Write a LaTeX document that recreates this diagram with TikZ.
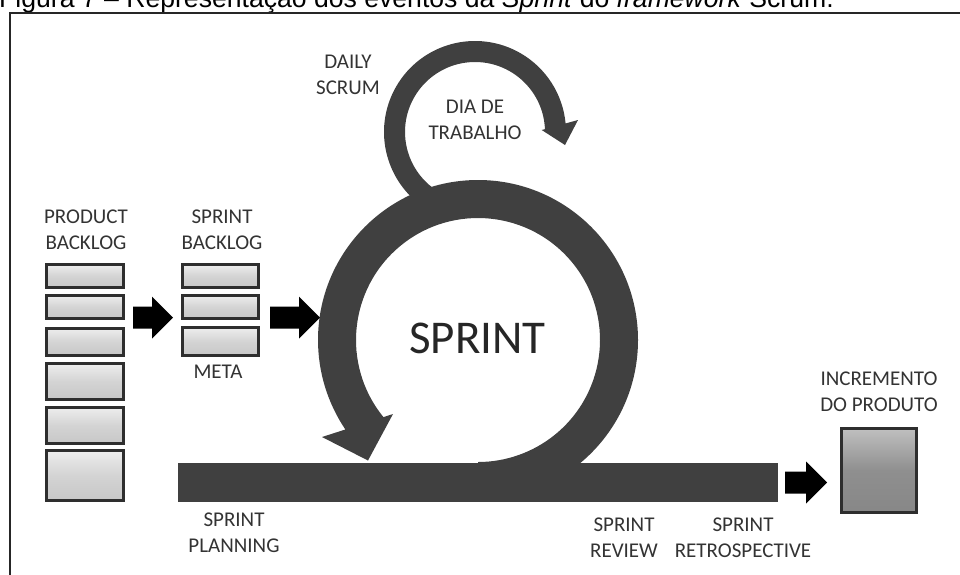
\documentclass[tikz,border=0pt]{standalone}
\usepackage{fontspec}
\setmainfont{Carlito}
\newfontfamily\capfont{Liberation Sans}
\usetikzlibrary{calc}
\definecolor{ringgray}{HTML}{404040}
\definecolor{boxedge}{HTML}{2E2E2E}
\definecolor{labeltext}{HTML}{333333}

\begin{document}
\begin{tikzpicture}[x=1pt,y=-1pt,
  lbl/.style={font=\fontsize{21}{26}\selectfont, text=labeltext, align=center, inner sep=0pt},
  item/.style={draw=boxedge, line width=3pt, top color=black!7, bottom color=black!22,
               middle color=black!17, minimum width=77pt, inner sep=0pt},
  product/.style={draw=boxedge, line width=3pt, top color=black!25, bottom color=black!47,
               middle color=black!44, minimum width=75pt, minimum height=84pt, inner sep=0pt},
  barrow/.style={fill=black, to path={let \p1=(\tikztostart), \p2=(\tikztotarget) in
     (\x1,\y1+11pt) -- (\x2-21pt,\y1+11pt) -- (\x2-21pt,\y1+21pt) -- (\x2,\y1)
     -- (\x2-21pt,\y1-21pt) -- (\x2-21pt,\y1-11pt) -- (\x1,\y1-11pt) -- cycle}}
]
\useasboundingbox (0,0) rectangle (960,574);

% caption and frame
\node[anchor=base west, inner sep=0pt, font=\capfont\fontsize{26.6}{30}\selectfont] (caption) at (-1,7)
  {Figura 7 – Representação dos eventos da \textit{Sprint} do \textit{framework} Scrum.};
\draw[line width=2pt, black!85] (9.5,600) -- (9.5,12.5) -- (1000,12.5);

% main sprint cycle, ending in an arrow head
\begin{scope}[shift={(478,340)}]
  \fill[ringgray] (90:160) arc[start angle=90, end angle=-214, radius=160]
    -- (-156,97) -- (-110,120.5) -- (-85,74)
    -- (-219.2:122) arc[start angle=-219.2, end angle=90, radius=122] -- cycle;
\end{scope}

% daily loop
\begin{scope}[shift={(475,132)}]
  \fill[ringgray] (120:91) arc[start angle=120, end angle=354.6, radius=91]
    -- (103,-12) -- (90,13) -- (66.7,-2)
    -- (357.7:70) arc[start angle=357.7, end angle=120, radius=70] -- cycle;
\end{scope}

% timeline bar
\node[fill=ringgray, minimum width=600pt, minimum height=39pt, inner sep=0pt] (bar) at (478,482.5) {};

% product backlog
\node[item, minimum height=23pt] (pb1) at (85,276) {};
\node[item, minimum height=23pt] (pb2) at (85,307) {};
\node[item, minimum height=27pt] (pb3) at (85,342) {};
\node[item, minimum height=36pt] (pb4) at (85,381.5) {};
\node[item, minimum height=36pt] (pb5) at (85,425.5) {};
\node[item, minimum height=50pt] (pb6) at (85,475.5) {};

% sprint backlog
\node[item, minimum width=76pt, minimum height=23pt] (sb1) at (220.5,276) {};
\node[item, minimum width=76pt, minimum height=23pt] (sb2) at (220.5,307) {};
\node[item, minimum width=76pt, minimum height=28pt] (sb3) at (220.5,341.5) {};

% product increment
\node[product] (inc) at (879,470.5) {};

% block arrows
\coordinate (a1s) at ([xshift=8pt,yshift=-10.5pt]pb2.east);
\coordinate (a1e) at ([xshift=-8pt,yshift=-10.5pt]sb2.west);
\coordinate (a2s) at ([xshift=10pt,yshift=-10.5pt]sb2.east);
\coordinate (a2e) at ([xshift=50pt]a2s);
\coordinate (a3s) at ([xshift=7pt]bar.east);
\coordinate (a3e) at ($(inc.west |- a3s)+(-13,0)$);
\path[barrow] (a1s) to (a1e);
\path[barrow] (a2s) to (a2e);
\path[barrow] (a3s) to (a3e);

% labels
\node[lbl] (pbl) at (86,230) {PRODUCT\\BACKLOG};
\node[lbl] (sbl) at (222,230) {SPRINT\\BACKLOG};
\node[lbl] (meta) at (218,372) {META};
\node[lbl] (daily) at (348,75) {DAILY\\SCRUM};
\node[lbl] (dia) at (475,120) {DIA DE\\TRABALHO};
\node[font=\fontsize{47}{50}\selectfont, text=black!85, inner sep=0pt] (sprint) at (477.5,338) {SPRINT};
\node[lbl] (incl) at (879,391.5) {INCREMENTO\\DO PRODUTO};
\node[lbl] (plan) at (234,533) {SPRINT\\PLANNING};
\node[lbl] (rev) at (624,538) {SPRINT\\REVIEW};
\node[lbl] (retro) at (743,538) {SPRINT\\RETROSPECTIVE};
\end{tikzpicture}
\end{document}
